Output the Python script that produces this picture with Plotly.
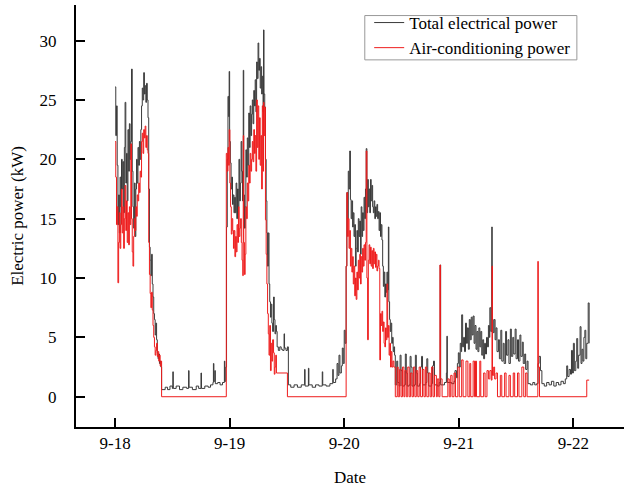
import plotly.graph_objects as go

# hours since 9-18 00:00
total_hours = [
    0.0, 0.15, 0.3, 0.45, 0.6, 0.75, 0.9, 1.05, 1.2, 1.35, 1.5, 1.65, 1.8, 1.95, 2.1, 2.25, 2.4, 2.55, 2.7, 2.85,
    3.0, 3.15, 3.3, 3.45, 3.6, 3.75, 3.9, 4.05, 4.2, 4.35, 4.5, 4.65, 4.8, 4.95, 5.1, 5.25, 5.4, 5.55, 5.7, 5.85,
    6.0, 6.15, 6.3, 6.45, 6.6, 6.75, 6.9, 7.05, 7.2, 7.35, 7.5, 7.65, 7.8, 7.95, 8.1, 8.25, 8.4, 8.55, 8.7, 8.85,
    9.0, 9.15, 9.3, 9.45, 9.6, 9.75,
    10.5, 11.0, 11.5, 12.0, 12.1, 12.2, 12.8, 13.5, 14.2, 15.0, 15.4, 15.5, 16.2, 17.0, 17.5, 18.0, 18.1, 18.8,
    19.5, 20.0, 20.5, 20.6, 20.7, 20.9, 21.0, 21.5, 22.0, 22.5, 22.9, 23.0, 23.2,
    23.35, 23.5, 23.65, 23.8, 23.9, 24.0, 24.15, 24.3, 24.45, 24.6, 24.75, 24.9, 25.05, 25.2, 25.35, 25.5, 25.65,
    25.8, 25.95, 26.1, 26.25, 26.4, 26.55, 26.7, 26.85, 26.95, 27.1, 27.25, 27.4, 27.55, 27.7, 27.85, 28.0, 28.15,
    28.3, 28.45, 28.6, 28.75, 28.9, 29.05, 29.2, 29.35, 29.5, 29.65, 29.8, 29.95, 30.1, 30.25, 30.4, 30.55, 30.7,
    30.85, 31.0, 31.1, 31.2, 31.35, 31.5, 31.65, 31.8, 31.95, 32.1, 32.25, 32.4, 32.55, 32.7, 32.85, 33.0, 33.2,
    33.35, 33.5, 33.65, 33.8, 33.95, 34.2, 34.5, 34.8, 35.1, 35.4, 35.5, 35.8, 36.1,
    36.3, 36.8, 37.5, 38.2, 39.0, 39.7, 39.8, 40.5, 40.6, 41.3, 42.0, 42.7, 43.4, 43.5, 44.2, 45.0, 45.6, 45.7,
    46.2, 46.5, 46.7, 46.9, 47.1, 47.4, 47.6, 47.8, 48.0, 48.2,
    48.4, 48.55, 48.7, 48.85, 49.0, 49.15, 49.3, 49.45, 49.6, 49.75, 49.9, 50.05, 50.2, 50.35, 50.5, 50.65, 50.8,
    50.95, 51.1, 51.25, 51.4, 51.55, 51.7, 51.85, 52.0, 52.15, 52.3, 52.45, 52.6, 52.75, 52.9, 53.05, 53.2, 53.35,
    53.5, 53.65, 53.8, 53.95, 54.1, 54.25, 54.4, 54.55, 54.7, 54.85, 55.0, 55.15, 55.3, 55.45, 55.6, 55.75, 55.9,
    56.05, 56.2, 56.35, 56.5, 56.65, 56.8, 56.95, 57.1, 57.25, 57.35, 57.5, 57.65, 57.8, 57.95, 58.1, 58.25, 58.4,
    58.55,
    58.7, 59.0, 59.2, 59.5, 59.7, 59.9, 60.1, 60.6, 60.8, 61.0, 61.2, 61.6, 61.8, 62.0, 62.2, 62.7, 62.9, 63.1,
    63.3, 63.8, 64.0, 64.2, 64.4, 65.1, 65.3, 65.5, 65.7, 66.3, 66.5, 66.7, 66.9, 67.5, 67.9, 68.1, 68.2, 69.0,
    69.4, 69.5, 69.6, 70.5, 71.0, 71.2, 71.5, 71.7, 71.9, 72.1, 72.3, 72.5,
    72.6, 72.8, 73.0, 73.2, 73.4, 73.6, 73.8, 74.0, 74.2, 74.4, 74.6, 74.8, 75.0, 75.2, 75.4, 75.6, 75.8, 76.0,
    76.2, 76.4, 76.6, 76.8, 77.0, 77.2, 77.4, 77.6, 77.8, 78.0, 78.2, 78.4, 78.5, 78.7, 78.9, 79.0, 79.2, 79.4,
    79.6, 79.8, 80.0, 80.3, 80.5, 80.8, 81.0, 81.3, 81.5, 81.8, 82.0, 82.3, 82.5, 82.8, 83.0, 83.3, 83.5, 83.8,
    84.0, 84.3, 84.5, 84.8, 85.0, 85.3, 85.5, 85.8, 86.0, 86.3,
    86.5, 87.0, 87.5, 87.9, 88.3, 88.6, 88.8, 89.1, 89.4, 89.9, 90.4, 90.9, 91.4, 91.9, 92.4, 92.9, 93.4, 93.9,
    94.3, 94.6, 94.8, 95.1, 95.4, 95.6, 95.8, 96.0, 96.2, 96.5, 96.7, 96.9, 97.1, 97.4, 97.6, 97.8, 98.0, 98.2,
    98.4, 98.6, 98.8, 99.1, 99.3,
]
total_kw = [
    26.1, 22, 24.5, 19.5, 14.5, 17, 13.8, 18.5, 16, 20, 17.5, 19.8, 15.5, 21, 24.8, 18, 20.5, 16.5, 22.5, 19,
    23, 20, 21.5, 27.6, 19, 16, 14.2, 18, 13.5, 17.5, 20, 18, 21, 19.5, 21.5, 20, 22.5, 24.5, 26, 25,
    27.3, 25.5, 26.2, 24.8, 26.4, 25, 23.5, 17.5, 12.6, 11.5, 10.2, 12, 9.5, 8.4, 7, 6.5, 5.2, 6.2, 4.8, 3.7,
    3.2, 3.6, 2.8, 3.0, 2.5, 0.6,
    0.8, 0.6, 0.9, 0.7, 2.1, 0.7, 0.9, 0.6, 0.8, 0.7, 2.2, 0.8, 0.6, 0.9, 0.7, 2.0, 0.7, 0.9,
    0.8, 1.0, 1.2, 2.8, 1.3, 2.2, 1.1, 1.2, 1.0, 1.2, 3.0, 1.3, 2.5,
    14.3, 20, 25.3, 23.6, 27.4, 21.5, 19.7, 17.5, 18.5, 16.2, 17, 15.5, 16.8, 15.5, 18, 15, 17.5,
    16, 20, 16.5, 18, 21.5, 19, 16.5, 27.5, 17, 14.2, 16, 20.8, 18.5, 21.8, 19.5, 23.9, 21,
    24.5, 22, 23.8, 25, 23, 25.8, 24.5, 26.7, 24, 28.2, 26.8, 29.8, 27.5, 28.5, 26, 27.8, 25.5,
    27, 24, 30.9, 25.5, 24.4, 20, 16.5, 13.8, 11, 13.8, 9.5, 8, 6.7, 7.8, 6.2, 5.5, 8.4,
    6.5, 5.3, 6, 5.5, 4.2, 3.9, 4.2, 4.0, 3.9, 5.3, 4.1, 3.9, 4.2,
    1.0, 0.8, 1.0, 0.8, 1.0, 2.3, 0.9, 2.4, 1.0, 0.8, 1.0, 0.9, 2.1, 1.0, 0.9, 1.1, 2.3, 1.2,
    1.5, 2.8, 1.8, 3.5, 2.0, 2.6, 4.1, 2.8, 5.6, 4.5,
    11, 17.2, 15, 19, 17.5, 20.7, 16.6, 15, 16.5, 14.3, 15.5, 13.5, 14.5, 11, 12.5, 14, 12.2,
    15, 13.5, 14.8, 12, 16, 13.5, 15.5, 14, 16.8, 15, 17.5, 20.9, 15.5, 18.3, 16, 17.5, 15.5,
    18.3, 16.5, 17.8, 16, 15.5, 16.5, 15, 16, 15.2, 16.2, 15, 15.6, 14, 15.5, 13.5, 14.5, 13.2,
    11, 9.3, 10.5, 8.4, 9.5, 8.8, 10.5, 9, 14.3, 8, 6.5, 5.5, 6.2, 4.5, 5, 3.8, 4.2,
    3.5,
    1.0, 3.0, 1.2, 0.9, 3.5, 2.2, 0.9, 1.0, 3.6, 2.0, 0.9, 1.0, 3.4, 2.5, 0.9, 1.0, 3.5, 2.0,
    0.9, 1.1, 2.5, 3.4, 1.0, 1.2, 3.2, 2.0, 0.9, 1.1, 2.6, 3.0, 1.0, 0.9, 1.2, 11.1, 1.0, 1.2,
    2.0, 5.1, 1.2, 1.1, 1.3, 2.2, 1.6, 2.8, 3.7, 2.5, 4.5, 3.8,
    6.9, 4.2, 5.0, 3.8, 6.2, 4.5, 5.8, 4.0, 6.5, 4.8, 6.7, 5.2, 6.8, 4.5, 6.0, 4.0, 5.5, 3.8,
    5.8, 4.2, 5.5, 3.5, 4.8, 3.2, 4.5, 3.6, 5.0, 4.2, 6.0, 5.0, 7.5, 5.5, 14.3, 6.5, 5.4, 6.5,
    4.8, 5.8, 3.8, 4.8, 3.2, 5.6, 3.0, 4.5, 2.8, 5.5, 3.5, 4.8, 2.8, 5.7, 3.4, 5.0, 3.6, 5.7,
    3.2, 4.8, 3.0, 5.2, 3.4, 4.6, 2.8, 3.6, 2.3, 3.0,
    1.1, 1.0, 1.2, 1.0, 1.1, 2.8, 3.4, 2.2, 1.1, 0.9, 1.2, 1.0, 1.3, 0.9, 1.2, 1.0, 1.3, 1.1,
    1.5, 2.6, 1.7, 2.3, 1.9, 3.9, 2.0, 4.5, 2.2, 3.0, 4.9, 2.4, 3.5, 5.9, 2.8, 4.0, 3.0, 5.0,
    5.6, 3.2, 4.5, 7.9, 4.5,
]

ac_hours = [
    0.0, 0.15, 0.3, 0.45, 0.6, 0.75, 0.9, 1.05, 1.2, 1.35, 1.5, 1.65, 1.8, 1.95, 2.1, 2.25, 2.4, 2.55, 2.7, 2.85,
    3.0, 3.15, 3.3, 3.45, 3.6, 3.75, 3.9, 4.05, 4.2, 4.35, 4.5, 4.65, 4.8, 4.95, 5.1, 5.25, 5.4, 5.55, 5.7, 5.85,
    6.0, 6.15, 6.3, 6.45, 6.6, 6.75, 6.9, 7.05, 7.2, 7.35, 7.5, 7.65, 7.8, 7.95, 8.1, 8.25, 8.4, 8.55, 8.7, 8.85,
    9.0, 9.15, 9.3, 9.45, 9.6, 9.75,
    23.3, 23.5, 23.65, 23.8, 23.9, 24.05, 24.2, 24.35, 24.5, 24.65, 24.8, 24.95, 25.1, 25.25, 25.4, 25.55, 25.7,
    25.85, 26.0, 26.15, 26.3, 26.45, 26.6, 26.75, 26.85, 26.95, 27.1, 27.25, 27.4, 27.55, 27.7, 27.85, 28.0,
    28.15, 28.3, 28.45, 28.6, 28.75, 28.9, 29.05, 29.2, 29.35, 29.5, 29.65, 29.8, 29.95, 30.1, 30.25, 30.4,
    30.55, 30.7, 30.85, 31.0, 31.1, 31.2, 31.35, 31.5, 31.65, 31.8, 31.95, 32.1, 32.25, 32.4, 32.55, 32.7,
    32.85, 33.0, 33.2, 33.35, 33.5, 33.65, 33.8, 36.1,
    48.4, 48.55, 48.7, 48.85, 49.0, 49.15, 49.3, 49.45, 49.6, 49.75, 49.9, 50.05, 50.2, 50.35, 50.5, 50.65,
    50.8, 50.95, 51.1, 51.25, 51.4, 51.55, 51.7, 51.85, 52.0, 52.15, 52.3, 52.45, 52.6, 52.75, 52.9, 53.05,
    53.2, 53.35, 53.5, 53.65, 53.8, 53.95, 54.1, 54.25, 54.4, 54.55, 54.7, 54.85, 55.0, 55.15, 55.3, 55.45,
    55.6, 55.75, 55.9, 56.05, 56.2, 56.35, 56.5, 56.65, 56.8, 56.95, 57.1, 57.25, 57.4, 57.55, 57.7, 57.85,
    58.0, 58.2, 58.4, 58.7,
    59.1, 59.3, 59.6, 59.9, 60.2, 60.5, 60.7, 61.0, 61.3, 61.6, 61.9, 62.2, 62.5, 62.8, 63.1, 63.4, 63.7,
    64.0, 64.4, 64.7, 65.0, 65.3, 65.7, 66.0, 66.3, 66.6, 66.9, 67.3, 67.5, 67.8, 68.05, 68.15, 68.5,
    69.7, 70.0, 70.3, 70.6, 71.0, 71.3, 71.8, 72.1, 72.6, 72.9, 73.5, 73.9, 74.3, 74.5, 75.0, 75.3, 75.5,
    75.7, 76.4, 76.6, 77.2, 77.5, 77.9, 78.2, 78.5, 78.8, 78.95, 79.05, 79.3, 79.5, 79.8, 80.1, 80.7, 81.0,
    81.6, 81.9, 82.5, 82.8, 83.4, 83.7, 84.3, 84.6, 85.2, 85.6, 86.0, 86.3,
    88.55, 88.65, 88.9, 98.8, 99.3,
]
ac_kw = [
    21.5, 18.5, 14.5, 16, 9.6, 13, 15.5, 12.5, 14.5, 17.5, 13.8, 16, 12.5, 15, 17.8, 14, 16.5, 13, 15.5, 12.8,
    16, 14.5, 21.3, 15, 12.2, 11, 13.5, 15, 14, 16, 15.2, 17, 16.5, 18, 17.2, 19, 18.5, 21.5, 22.2, 20.5,
    22.5, 21.8, 22.8, 21, 22, 20.8, 20.5, 13, 10.3, 8.7, 7.5, 8.8, 7.3, 6, 5, 4.2, 3.5, 3.9, 4.5, 3.4,
    3.8, 3.0, 3.5, 2.6, 3.0, 0,
    20.5, 19, 21, 19.5, 22.5, 18, 16, 13.7, 15, 14, 12.5, 14, 11.8, 13.5, 12.2, 14.5, 13,
    16, 13.5, 14.2, 15, 13, 11.5, 10.2, 22, 13, 10.3, 12, 16, 15, 18, 16.5, 19.5,
    18, 20.5, 19, 20, 21.5, 19.8, 22.5, 20.5, 22, 19, 25, 21, 24.5, 20, 23.5, 19.5,
    22, 17.5, 24.5, 19, 24.8, 22, 24.4, 14.9, 12, 9.5, 7, 5.3, 3.5, 6, 2.2, 4.5,
    3, 4.8, 3.7, 1.9, 2.5, 3.5, 2.0, 0,
    11, 17.2, 13.5, 15, 12.5, 14, 11, 12.5, 10.5, 11.8, 9.5, 11, 8.5, 10, 8.2, 10.5,
    9, 11.5, 10, 12, 9.5, 11.8, 10.5, 12.5, 11, 12.8, 11.5, 13, 20.7, 10, 4.8, 11.5,
    12.8, 11.2, 12.6, 11, 12.3, 10.8, 12.5, 11.2, 12.2, 10.9, 12, 10.6, 11, 11.5, 10.8, 3.1,
    7, 6, 7.2, 5.5, 6.3, 4.5, 4.2, 5.8, 4.8, 9.5, 5, 6, 3.5, 4.5, 2.5, 3.8,
    2.5, 3, 2.5, 0,
    2.5, 0, 2.3, 0, 2.5, 0, 2.2, 0, 2.5, 0, 2.0, 0, 2.5, 0, 2.2, 0, 2.5,
    0, 2.3, 0, 2.5, 0, 2.0, 0, 2.5, 0, 1.8, 0, 1.5, 0, 11.1, 1.5, 0,
    1.5, 0, 1.8, 0, 2.0, 0, 2.5, 0, 3.1, 0, 3.0, 0, 2.8, 0, 3.0, 0, 3.0,
    0, 3.0, 0, 2.0, 0, 2.2, 1.5, 2.2, 1.4, 11.0, 1.8, 2.5, 1.5, 2.0, 0, 1.8, 0,
    2.0, 0, 1.8, 0, 2.0, 0, 2.0, 0, 2.5, 0, 2.0, 0,
    11.4, 2.5, 0, 1.4, 1.4,
]

date_tickvals = [0, 24, 48, 72, 96]
date_ticktext = ["9-18", "9-19", "9-20", "9-21", "9-22"]
power_tickvals = [0, 5, 10, 15, 20, 25, 30]

FONT = "Liberation Serif"

fig = go.Figure()
fig.add_trace(go.Scatter(
    x=total_hours, y=total_kw, mode="lines", name="Total electrical power",
    line=dict(color="#3a3a3a", width=1, shape="hv"),
))
fig.add_trace(go.Scatter(
    x=ac_hours, y=ac_kw, mode="lines", name="Air-conditioning power",
    line=dict(color="#ee1c1c", width=1, shape="hv"),
))

# legend frame (drawn as a shape so the box is tight like the original)
fig.add_shape(
    type="rect", xref="paper", yref="paper",
    x0=0.527, x1=0.914, y0=0.870, y1=0.975,
    line=dict(color="#999999", width=1), fillcolor="rgba(0,0,0,0)", layer="above",
)

fig.update_layout(
    width=624, height=487,
    margin=dict(l=76, r=0, t=5, b=60, autoexpand=False),
    paper_bgcolor="white", plot_bgcolor="white",
    font=dict(family=FONT, size=17, color="black"),
    showlegend=True,
    legend=dict(
        x=0.535, y=1.0, xanchor="left", yanchor="top",
        borderwidth=0, bgcolor="rgba(0,0,0,0)",
        font=dict(family=FONT, size=17, color="black"),
        tracegroupgap=0, itemwidth=30,
    ),
    xaxis=dict(
        range=[-8.18, 106.6], tickmode="array", tickvals=date_tickvals, ticktext=date_ticktext,
        showline=True, linecolor="black", linewidth=2, ticks="inside", ticklen=9, tickwidth=2,
        tickcolor="black", showgrid=False, zeroline=False, automargin=False,
        title=dict(text="Date", font=dict(family=FONT, size=17), standoff=19),
    ),
    yaxis=dict(
        range=[-2.55, 33.0], tickmode="array", tickvals=power_tickvals,
        showline=True, linecolor="black", linewidth=2, ticks="inside", ticklen=9, tickwidth=2,
        tickcolor="black", showgrid=False, zeroline=False, automargin=False,
        ticklabelstandoff=14,
        title=dict(text="Electric power (kW)", font=dict(family=FONT, size=17), standoff=12),
    ),
)

fig.write_html("out.html", config={"displayModeBar": False},
               post_script="document.body.style.margin='0';")
